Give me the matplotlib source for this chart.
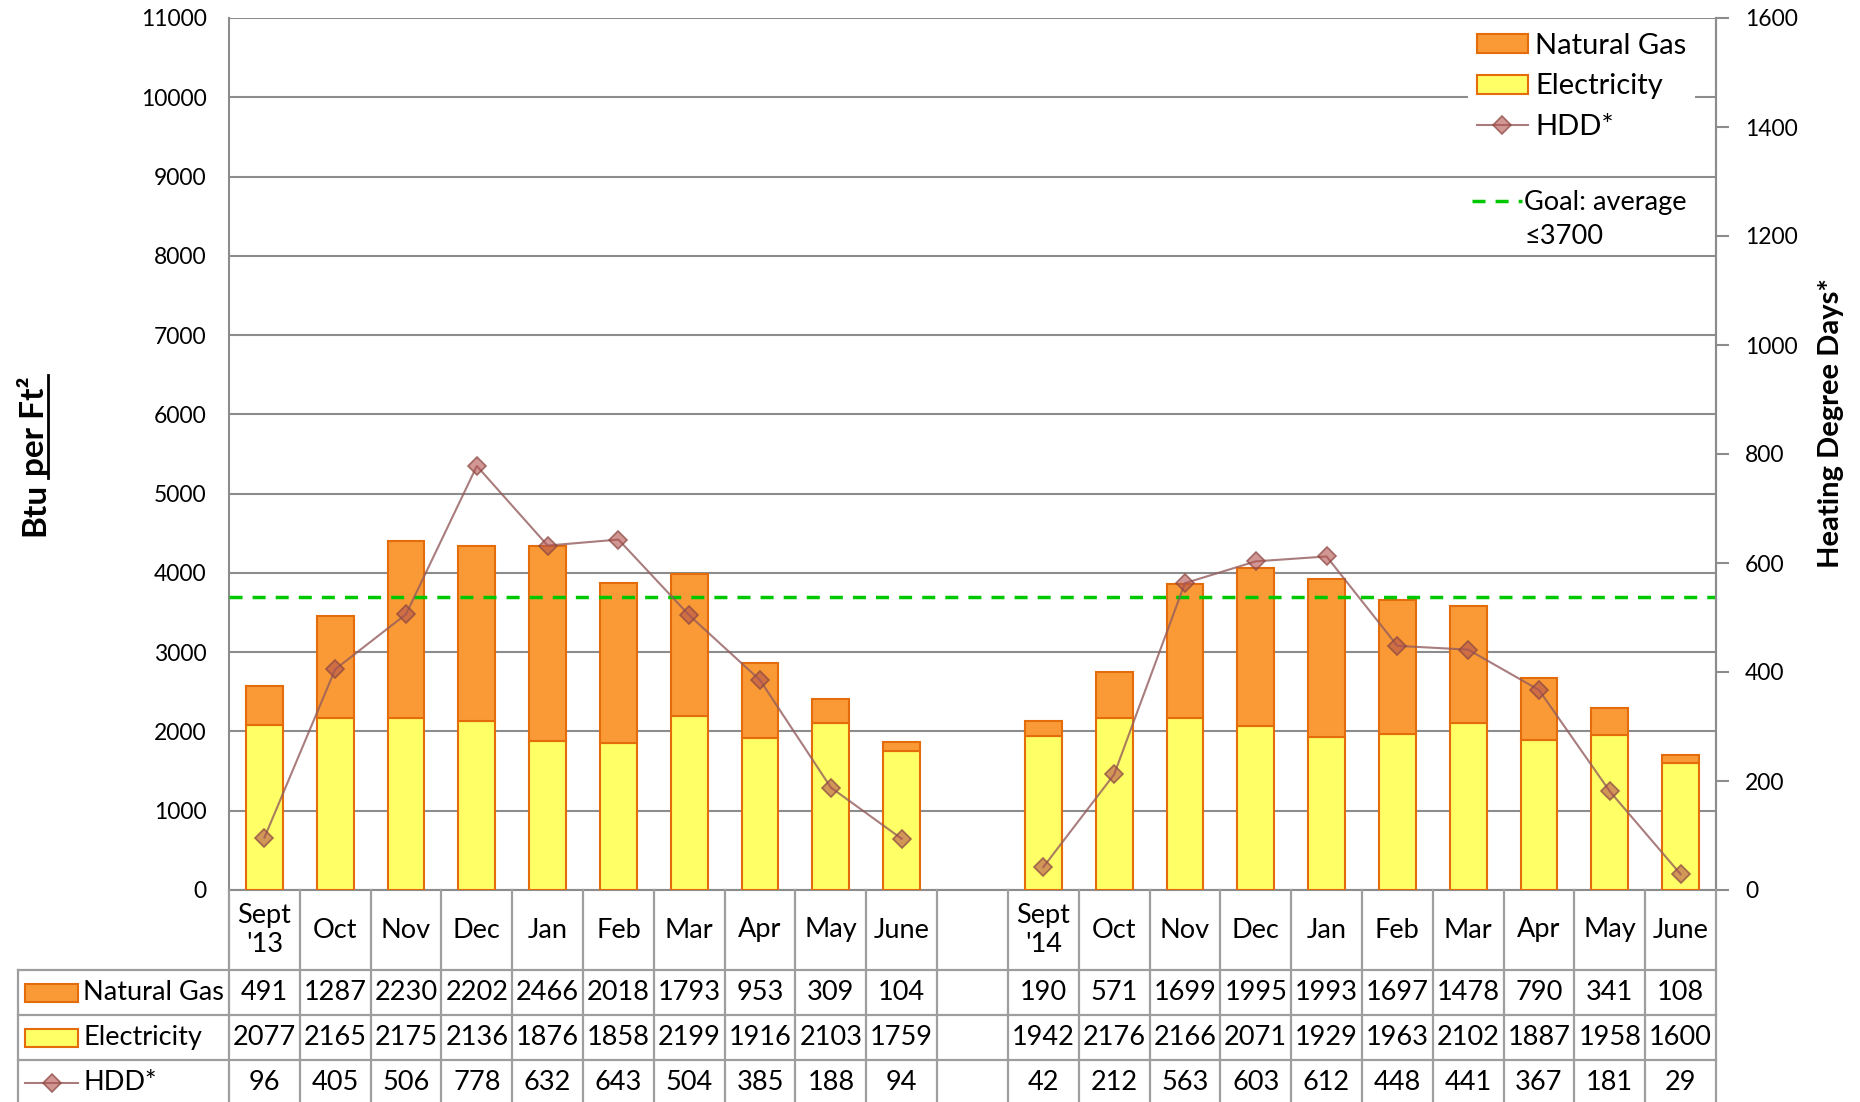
import matplotlib
matplotlib.use("Agg")
import matplotlib.pyplot as plt
from matplotlib.patches import Rectangle, Patch
from matplotlib.lines import Line2D
import numpy as np

plt.rcParams['font.family'] = ['Lato', 'DejaVu Sans']

# monthly data, 2013-14 and 2014-15 heating seasons (blank column between them)
months = ["Sept\n'13", "Oct", "Nov", "Dec", "Jan", "Feb", "Mar", "Apr", "May", "June",
          "",
          "Sept\n'14", "Oct", "Nov", "Dec", "Jan", "Feb", "Mar", "Apr", "May", "June"]
gas = [491, 1287, 2230, 2202, 2466, 2018, 1793, 953, 309, 104,
       None,
       190, 571, 1699, 1995, 1993, 1697, 1478, 790, 341, 108]
elec = [2077, 2165, 2175, 2136, 1876, 1858, 2199, 1916, 2103, 1759,
        None,
        1942, 2176, 2166, 2071, 1929, 1963, 2102, 1887, 1958, 1600]
hdd = [96, 405, 506, 778, 632, 643, 504, 385, 188, 94,
       None,
       42, 212, 563, 603, 612, 448, 441, 367, 181, 29]
goal = 3700

gas_a = np.array([np.nan if v is None else v for v in gas], dtype=float)
elec_a = np.array([np.nan if v is None else v for v in elec], dtype=float)
hdd_a = np.array([np.nan if v is None else v for v in hdd], dtype=float)

GAS_C = '#F99A36'
ELEC_C = '#FFFF66'
EDGE_C = '#E46C0A'
GRID_C = '#8C8C8C'
TAB_C = '#9E9E9E'
HDD_LINE = (0.58, 0.36, 0.36, 0.8)
HDD_FACE = (0.70, 0.32, 0.30, 0.6)
HDD_EDGE = (0.55, 0.28, 0.26, 0.75)

W, H = 1860, 1102
L, R, T, B = 229, 1716, 18, 890
n = len(months)
colw = (R - L) / n

fig = plt.figure(figsize=(W / 100, H / 100), dpi=100)
ax = fig.add_axes([L / W, 1 - B / H, (R - L) / W, (B - T) / H])

x = np.arange(n)
ax.bar(x, elec_a, width=0.52, color=ELEC_C, edgecolor=EDGE_C, lw=1.5, zorder=3)
ax.bar(x, gas_a, bottom=elec_a, width=0.52, color=GAS_C, edgecolor=EDGE_C, lw=1.5, zorder=3)
ax.axhline(goal, color='#00C800', lw=2.5, ls=(0, (3.75, 2.9)), zorder=4)

ax.set_xlim(-0.5, n - 0.5)
ax.set_ylim(0, 11000)
ax.set_yticks(range(0, 11001, 1000))
ax.set_xticks([])
ax.grid(axis='y', color=GRID_C, lw=1.5, zorder=0)
ax.set_axisbelow(True)
ax.tick_params(axis='y', length=0, pad=16, labelsize=16.5)
for s in ['left', 'bottom', 'right']:
    ax.spines[s].set_color(GRID_C)
    ax.spines[s].set_linewidth(1.5)
ax.spines['top'].set_visible(False)

ax2 = ax.twinx()
ax2.plot(x, hdd_a, color=HDD_LINE, lw=1.5, marker='D', ms=9,
         mfc=HDD_FACE, mec=HDD_EDGE, mew=1.2, zorder=5)
ax2.set_ylim(0, 1600)
ax2.set_yticks(range(0, 1601, 200))
ax2.tick_params(axis='y', length=9, width=1.5, color=GRID_C, pad=12, labelsize=16.5)
for s in ['left', 'bottom', 'top']:
    ax2.spines[s].set_visible(False)
ax2.spines['right'].set_color(GRID_C)
ax2.spines['right'].set_linewidth(1.5)

# legend (top right)
h_gas = Patch(facecolor=GAS_C, edgecolor=EDGE_C, lw=1.5)
h_elec = Patch(facecolor=ELEC_C, edgecolor=EDGE_C, lw=1.5)
h_hdd = Line2D([], [], color=HDD_LINE, lw=1.5, marker='D', ms=9,
               mfc=HDD_FACE, mec=HDD_EDGE, mew=1.2)
leg = ax2.legend([h_gas, h_elec, h_hdd], ["Natural Gas", "Electricity", "HDD*"],
                 loc='upper left', bbox_to_anchor=(1468 / W, 1 - 24 / H),
                 bbox_transform=fig.transFigure, fontsize=21, frameon=True,
                 facecolor='white', edgecolor='none', framealpha=1, fancybox=False,
                 borderpad=0.3, borderaxespad=0, labelspacing=0.5,
                 handlelength=1.75, handleheight=0.62, handletextpad=0.25)
ax2.add_artist(leg)
h_goal = Line2D([], [], color='#00C800', lw=2.5, ls=(0, (3.75, 2.9)))
h_none = Line2D([], [], color='none')
ax2.legend([h_goal, h_none], ["Goal: average", "\u22643700"],
           loc='upper left', bbox_to_anchor=(1472 / W, 1 - 190 / H),
           bbox_transform=fig.transFigure, fontsize=19.5, frameon=False,
           borderpad=0, borderaxespad=0, labelspacing=0.35,
           handlelength=1.85, handletextpad=0.08)

# data table under the chart
tax = fig.add_axes([L / W, 0, (R - L) / W, (H - B) / H])
tax.set_xlim(-0.5, n - 0.5)
tax.set_ylim(H - B, 0)
tax.axis('off')


def px2col(px):
    return (px - L) / colw - 0.5


rows = [0, 80, 125, 170, 215]
lab_left = px2col(18)
for i in range(n + 1):
    tax.plot([i - 0.5, i - 0.5], [0, 215], color=TAB_C, lw=1.6, clip_on=False)
tax.plot([lab_left, lab_left], [80, 215], color=TAB_C, lw=1.6, clip_on=False)
for yy in rows[1:4]:
    tax.plot([lab_left, n - 0.5], [yy, yy], color=TAB_C, lw=1.6, clip_on=False)

centers = [(rows[k] + rows[k + 1]) / 2 for k in range(4)]
for i, m in enumerate(months):
    tax.text(i, centers[0], m, ha='center', va='center', fontsize=19.5, linespacing=1.15)
for k, series in enumerate([gas, elec, hdd]):
    for i, v in enumerate(series):
        if v is not None:
            tax.text(i, centers[k + 1], str(v), ha='center', va='center', fontsize=19.5)

p0, p1 = px2col(25), px2col(78)
tax.add_patch(Rectangle((p0, centers[1] - 9), p1 - p0, 18, facecolor=GAS_C,
                        edgecolor=EDGE_C, lw=1.5, clip_on=False))
tax.add_patch(Rectangle((p0, centers[2] - 9), p1 - p0, 18, facecolor=ELEC_C,
                        edgecolor=EDGE_C, lw=1.5, clip_on=False))
tax.plot([p0, p1], [centers[3]] * 2, color=HDD_LINE, lw=1.5, clip_on=False)
tax.plot([(p0 + p1) / 2], [centers[3]], marker='D', ms=9, mfc=HDD_FACE,
         mec=HDD_EDGE, mew=1.2, clip_on=False)
for k, lab in enumerate(["Natural Gas", "Electricity", "HDD*"]):
    tax.text(px2col(83), centers[k + 1], lab, ha='left', va='center', fontsize=19.5)

# axis titles
fig.text(1831 / W, 1 - 423 / H, "Heating Degree Days*", rotation=90, ha='center',
         va='center', fontsize=21, fontweight='bold')
r = fig.canvas.get_renderer()
t1 = fig.text(44 / W, 1 - 536 / H, "Btu", rotation=90, rotation_mode='anchor',
              ha='left', va='baseline', fontsize=24, fontweight='bold')
bb1 = t1.get_window_extent(r)
y2 = bb1.y1 + 7
t2 = fig.text(44 / W, y2 / H, "per Ft\u00b2", rotation=90, rotation_mode='anchor',
              ha='left', va='baseline', fontsize=24, fontweight='bold')
bb2 = t2.get_window_extent(r)
fig.add_artist(Line2D([48 / W, 48 / W], [(y2 - 2) / H, (bb2.y1 + 1) / H],
                      color='black', lw=2, transform=fig.transFigure))

fig.savefig('out.png', dpi=100)
